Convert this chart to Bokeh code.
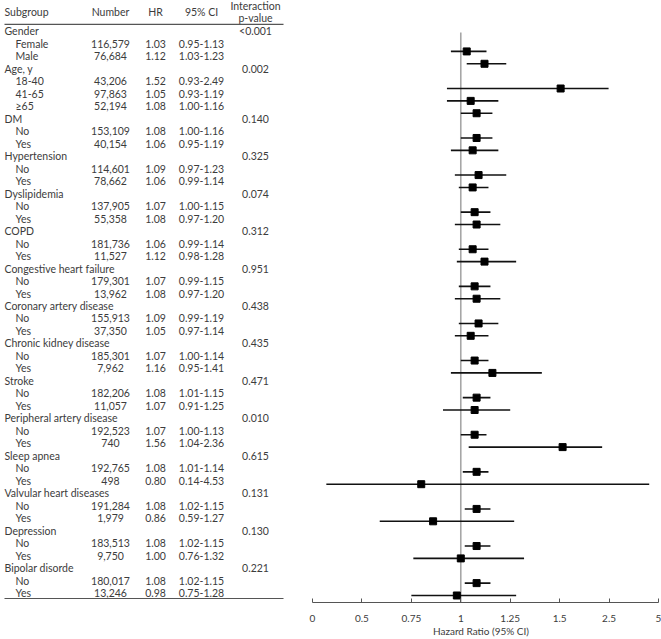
import numpy as np
from bokeh.plotting import figure
from bokeh.layouts import row
from bokeh.models import ColumnDataSource, Range1d, FixedTicker
from bokeh.core.properties import value
from bokeh.embed import file_html
from bokeh.resources import INLINE

# ---------------- data ----------------
groups = ["Gender", "Age, y", "DM", "Hypertension", "Dyslipidemia", "COPD",
          "Congestive heart failure", "Coronary artery disease",
          "Chronic kidney disease", "Stroke", "Peripheral artery disease",
          "Sleep apnea", "Valvular heart diseases", "Depression", "Bipolar disorde"]
p_values = ["<0.001", "0.002", "0.140", "0.325", "0.074", "0.312", "0.951", "0.438",
            "0.435", "0.471", "0.010", "0.615", "0.131", "0.130", "0.221"]
levels = [["Female", "Male"], ["18-40", "41-65", "\u226565"]] + [["No", "Yes"]] * 13
numbers = ["116,579", "76,684", "43,206", "97,863", "52,194", "153,109", "40,154",
           "114,601", "78,662", "137,905", "55,358", "181,736", "11,527", "179,301",
           "13,962", "155,913", "37,350", "185,301", "7,962", "182,206", "11,057",
           "192,523", "740", "192,765", "498", "191,284", "1,979", "183,513", "9,750",
           "180,017", "13,246"]
hr = [1.03, 1.12, 1.52, 1.05, 1.08, 1.08, 1.06, 1.09, 1.06, 1.07, 1.08, 1.06, 1.12,
      1.07, 1.08, 1.09, 1.05, 1.07, 1.16, 1.08, 1.07, 1.07, 1.56, 1.08, 0.80, 1.08,
      0.86, 1.08, 1.00, 1.08, 0.98]
ci_low = [0.95, 1.03, 0.93, 0.93, 1.00, 1.00, 0.95, 0.97, 0.99, 1.00, 0.97, 0.99, 0.98,
          0.99, 0.97, 0.99, 0.97, 1.00, 0.95, 1.01, 0.91, 1.00, 1.04, 1.01, 0.14, 1.02,
          0.59, 1.02, 0.76, 1.02, 0.75]
ci_high = [1.13, 1.23, 2.49, 1.19, 1.16, 1.16, 1.19, 1.23, 1.14, 1.15, 1.20, 1.14, 1.28,
           1.15, 1.20, 1.19, 1.14, 1.14, 1.41, 1.15, 1.25, 1.13, 2.36, 1.14, 4.53, 1.15,
           1.27, 1.15, 1.32, 1.15, 1.28]
tick_values = [0, 0.5, 0.75, 1, 1.25, 1.5, 2.5, 5]
tick_labels = ["0", "0.5", "0.75", "1", "1.25", "1.5", "2.5", "5"]
headers = ["Subgroup", "Number", "HR", "95% CI"]

# ---------------- styling ----------------
FONT = value("Lato")
FS = value("10.5px")
TXT = "#3c3c3c"
RULE = "#555555"

# ---------------- row layout ----------------
g_y, s_y, s_lab = [], [], []
r = 0
for g, lv in zip(groups, levels):
    g_y.append(r)
    r += 1
    for name in lv:
        s_y.append(r)
        s_lab.append(name)
        r += 1

hr_txt = [f"{v:.2f}" for v in hr]
ci_txt = [f"{a:.2f}-{b:.2f}" for a, b in zip(ci_low, ci_high)]

W_T, W_F, H = 300, 361, 639
BOTTOM = 36

# ---------------- table ----------------
tab = figure(width=W_T, height=H, x_range=Range1d(0, 300), y_range=Range1d(45.76, -2.48),
             output_backend="svg", toolbar_location=None, min_border=0,
             min_border_bottom=BOTTOM, x_axis_location=None, y_axis_location=None)
tab.outline_line_color = None
tab.xgrid.grid_line_color = None
tab.ygrid.grid_line_color = None

common = dict(text_font=FONT, text_font_size=FS, text_color=TXT, text_baseline="middle")

src_g = ColumnDataSource(dict(y=g_y, lab=groups, p=p_values))
src_s = ColumnDataSource(dict(y=s_y, lab=s_lab, n=numbers, hr=hr_txt, ci=ci_txt))

tab.text(x=4, y="y", text="lab", source=src_g, text_align="left", **common)
tab.text(x=255, y="y", text="p", source=src_g, text_align="center", **common)
tab.text(x=15, y="y", text="lab", source=src_s, text_align="left", **common)
tab.text(x=110, y="y", text="n", source=src_s, text_align="center", **common)
tab.text(x=155, y="y", text="hr", source=src_s, text_align="center", **common)
tab.text(x=201, y="y", text="ci", source=src_s, text_align="center", **common)

tab.text(x=[4], y=[-1.52], text=[headers[0]], text_align="left", **common)
tab.text(x=[110, 155, 201], y=[-1.52] * 3, text=headers[1:], text_align="center", **common)
tab.text(x=[255, 255], y=[-2.0, -1.04], text=["Interaction", "p-value"],
         text_align="center", **common)

tab.segment(x0=4, y0=-0.56, x1=283, y1=-0.56, line_color=RULE, line_width=1.2)
tab.segment(x0=4, y0=45.44, x1=283, y1=45.44, line_color=RULE, line_width=1.2)

# ---------------- forest ----------------
tick_idx = np.arange(len(tick_values))


def to_axis(v):
    return np.interp(v, tick_values, tick_idx)


fx = figure(width=W_F, height=H, x_range=Range1d(-0.2428, 7.0607),
            y_range=Range1d(45.567, -3.1175), output_backend="svg",
            toolbar_location=None, min_border=0, min_border_bottom=BOTTOM,
            y_axis_location=None)
fx.outline_line_color = None
fx.xgrid.grid_line_color = None
fx.ygrid.grid_line_color = None

x_one = float(to_axis(1.0))
fx.segment(x0=x_one, y0=-0.534, x1=x_one, y1=45.567, line_color="#a6a6a6", line_width=1.6)

src_f = ColumnDataSource(dict(y=s_y, hr=to_axis(hr), lo=to_axis(ci_low), hi=to_axis(ci_high)))
fx.segment(x0="lo", y0="y", x1="hi", y1="y", source=src_f, line_color="#111111", line_width=1.6)
fx.scatter(x="hr", y="y", marker="square", size=7, fill_color="black",
           line_color="black", source=src_f)

ax = fx.xaxis[0]
ax.ticker = FixedTicker(ticks=[int(i) for i in tick_idx])
ax.major_label_overrides = {int(i): lab for i, lab in zip(tick_idx, tick_labels)}
ax.bounds = (0, int(tick_idx[-1]))
ax.axis_line_color = RULE
ax.axis_line_width = 1.2
ax.major_tick_line_color = RULE
ax.major_tick_in = 4
ax.major_tick_out = 0
ax.minor_tick_line_color = None
ax.major_label_standoff = 12
ax.major_label_text_font = "Lato"
ax.major_label_text_font_size = "10px"
ax.major_label_text_color = TXT
ax.axis_label = "Hazard Ratio (95% CI)"
ax.axis_label_text_font = "Lato"
ax.axis_label_text_font_size = "10px"
ax.axis_label_text_font_style = "normal"
ax.axis_label_text_color = TXT
ax.axis_label_standoff = 0

layout = row(tab, fx)
open("out.html", "w").write(file_html(layout, INLINE))
